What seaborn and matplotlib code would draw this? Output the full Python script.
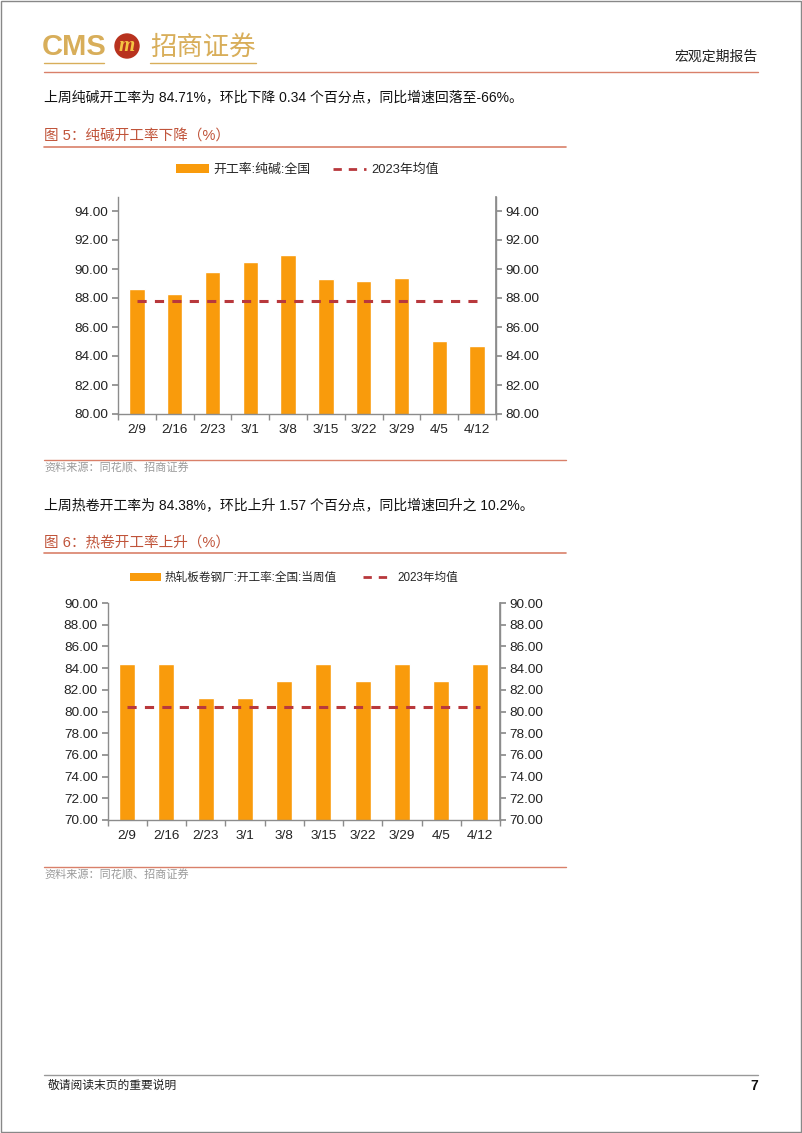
import matplotlib
matplotlib.use("Agg")
import matplotlib.pyplot as plt
import seaborn as sns
import pandas as pd
from matplotlib.lines import Line2D
from matplotlib.patches import Patch, Circle, Rectangle

sns.set_theme(style="white")
plt.rcParams['font.family'] = ['Liberation Sans', 'Noto Sans CJK SC', 'DejaVu Sans']

# ---------------- data ----------------
dates = ["2/9", "2/16", "2/23", "3/1", "3/8", "3/15", "3/22", "3/29", "4/5", "4/12"]
soda_rate = [88.60, 88.25, 89.80, 90.50, 91.00, 89.30, 89.20, 89.40, 85.05, 84.71]
soda_avg_2023 = 87.80
hrc_rate = [84.38, 84.38, 81.20, 81.20, 82.80, 84.38, 82.80, 84.38, 82.81, 84.38]
hrc_avg_2023 = 80.40

soda_label = "开工率:纯碱:全国"
hrc_label = "热轧板卷钢厂:开工率:全国:当周值"
avg_label = "2023年均值"

BAR = "#F99B0C"
AVG = "#B8383C"
AXC = "#8C8C8C"
TITLE_C = "#C0543A"
RULE_C = "#D9806A"
GOLD = "#D8AE5A"

W, H = 802, 1133
fig = plt.figure(figsize=(W / 100, H / 100), dpi=100)

# overlay in pixel coordinates for page decorations
bg = fig.add_axes([0, 0, 1, 1], zorder=0)
bg.set_xlim(0, W)
bg.set_ylim(H, 0)
bg.axis("off")

# page border
bg.add_patch(Rectangle((0.5, 0.5), W - 1.5, H - 1.5, fill=False, ec="#888888", lw=1))

# header logo
bg.text(42, 47, "CMS", color=GOLD, fontsize=21, fontweight="bold", va="center", ha="left",
        family=["Liberation Sans"])
bg.add_patch(Circle((127, 46), 12, color="#B8321E"))
bg.text(127, 46, "m", color="#F5C542", fontsize=15, fontweight="bold", style="italic",
        va="center", ha="center", family=["Liberation Serif"])
bg.text(150, 47, "招商证券", color=GOLD, fontsize=19, va="center", ha="left",
        family=["Noto Sans CJK SC"])
bg.plot([44, 104], [63, 63], color=GOLD, lw=1)
bg.plot([150, 256], [63, 63], color=GOLD, lw=1)
bg.text(758, 57, "宏观定期报告", fontsize=10, va="center", ha="right", color="#222222")
bg.plot([44, 758], [72, 72], color=RULE_C, lw=1)

# paragraph & figure title 1
bg.text(44, 97, "上周纯碱开工率为 84.71%，环比下降 0.34 个百分点，同比增速回落至-66%。",
        fontsize=10, va="center", ha="left", color="#111111")
bg.text(44, 137, "图 5：纯碱开工率下降（%）", fontsize=10.5, va="center", ha="left", color=TITLE_C)
bg.plot([44, 566], [147, 147], color=RULE_C, lw=1.2)
bg.plot([44, 566], [460, 460], color=RULE_C, lw=1)
bg.text(44, 468, "资料来源：同花顺、招商证券", fontsize=8, va="center", ha="left", color="#9A9A9A")

# paragraph & figure title 2
bg.text(44, 505, "上周热卷开工率为 84.38%，环比上升 1.57 个百分点，同比增速回升之 10.2%。",
        fontsize=10, va="center", ha="left", color="#111111")
bg.text(44, 543, "图 6：热卷开工率上升（%）", fontsize=10.5, va="center", ha="left", color=TITLE_C)
bg.plot([44, 566], [553, 553], color=RULE_C, lw=1.2)
bg.plot([44, 566], [867, 867], color=RULE_C, lw=1)
bg.text(44, 875, "资料来源：同花顺、招商证券", fontsize=8, va="center", ha="left", color="#9A9A9A")

# footer
bg.plot([44, 758], [1075, 1075], color="#999999", lw=1)
bg.text(48, 1086, "敬请阅读末页的重要说明", fontsize=8.5, va="center", ha="left", color="#222222")
bg.text(758, 1086, "7", fontsize=10, fontweight="bold", va="center", ha="right", color="#111111")


def make_chart(rect, values, avg, ylim, yticks, bar_label, legend_xy, colspace, legsize):
    ax = fig.add_axes(rect, zorder=2)
    df = pd.DataFrame({"date": dates, "value": values})
    sns.barplot(data=df, x="date", y="value", color=BAR, saturation=1, width=0.41, ax=ax,
                order=dates)
    ax.plot(range(len(dates)), [avg] * len(dates), color=AVG, lw=2.2, dashes=(3, 2.7))
    ax.set_ylim(*ylim)
    ax.set_xlim(-0.5, len(dates) - 0.5)
    ax.set_yticks(yticks)
    ax.set_yticklabels([f"{t:.2f}" for t in yticks])
    ax.set_xlabel("")
    ax.set_ylabel("")
    ax.spines["top"].set_visible(False)
    for s in ["left", "right", "bottom"]:
        ax.spines[s].set_visible(True)
        ax.spines[s].set_color(AXC)
        ax.spines[s].set_linewidth(1)
    ax.tick_params(axis="y", direction="out", length=4, color=AXC, labelsize=9.7,
                   labelcolor="#222222", left=True, pad=3)
    ax.tick_params(axis="x", which="major", length=0, labelsize=9.7, labelcolor="#222222", pad=7)
    ax.set_xticks([i - 0.5 for i in range(len(dates) + 1)], minor=True)
    ax.tick_params(axis="x", which="minor", direction="out", length=4, color=AXC, bottom=True)
    ax2 = ax.twinx()
    ax2.set_ylim(*ylim)
    ax2.set_yticks(yticks)
    ax2.set_yticklabels([f"{t:.2f}" for t in yticks])
    for s in ["top", "left", "bottom"]:
        ax2.spines[s].set_visible(False)
    ax2.spines["right"].set_color(AXC)
    ax2.tick_params(axis="y", direction="out", length=4, color=AXC, labelsize=9.7,
                    labelcolor="#222222", right=True, pad=3)
    ax2.grid(False)
    ax.grid(False)
    handles = [Patch(facecolor=BAR, edgecolor="none"),
               Line2D([0], [0], color=AVG, lw=2, dashes=(3, 2.5))]
    fig.legend(handles, [bar_label, avg_label], loc="center",
               bbox_to_anchor=(legend_xy[0] / W, 1 - legend_xy[1] / H), ncol=2,
               frameon=False, fontsize=legsize, handlelength=2.6, handleheight=0.6,
               columnspacing=colspace, handletextpad=0.35)
    return ax


make_chart([118 / W, 1 - 414 / H, 378 / W, (414 - 196.5) / H], soda_rate, soda_avg_2023,
           (80, 95), list(range(80, 95, 2)), soda_label, (307, 170), 1.7, 9.3)
make_chart([107.5 / W, 1 - 820 / H, 392.5 / W, (820 - 603) / H], hrc_rate, hrc_avg_2023,
           (70, 90), list(range(70, 91, 2)), hrc_label, (294, 578), 2.2, 8.4)

fig.savefig("out.png", dpi=100)
